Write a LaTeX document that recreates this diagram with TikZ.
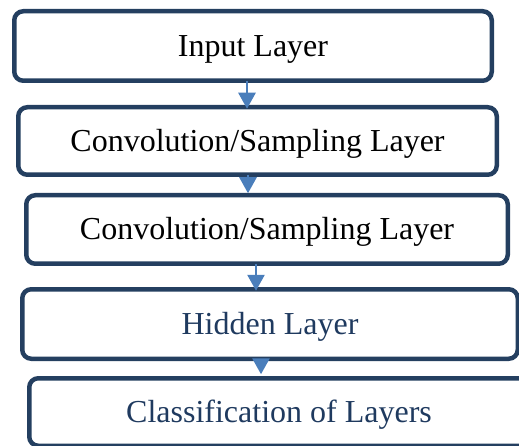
\documentclass[tikz,border=0pt]{standalone}
\usepackage{fontspec}
\setmainfont{Liberation Serif}
\usetikzlibrary{arrows.meta}
\definecolor{boxline}{HTML}{243F60}
\definecolor{boxtext}{HTML}{1F3A5F}
\definecolor{flow}{HTML}{4A7EBB}
\begin{document}
\begin{tikzpicture}[x=1pt,y=-1pt,
  layer/.style={draw=boxline, line width=4.5pt, rounded corners=9pt, fill=white,
    outer sep=0pt, inner sep=0pt, text height=21pt, text depth=0pt,
    font=\fontsize{32}{38}\selectfont},
  flowarrow/.style={draw=flow, line width=2.7pt,
    -{Triangle[length=16pt,width=17pt]}}]
  \useasboundingbox (0,0) rectangle (519,446);
  % the five stacked layers
  \node[layer, minimum width=477.5pt, minimum height=69.5pt] (b1) at (253,46) {Input Layer};
  \node[layer, minimum width=478.5pt, minimum height=67.5pt] (b2) at (257.5,141) {Convolution/Sampling Layer};
  \node[layer, minimum width=481.5pt, minimum height=68.5pt] (b3) at (267,229.5) {Convolution/Sampling Layer};
  \node[layer, minimum width=495.5pt, minimum height=69.5pt, text=boxtext] (b4) at (270,324) {Hidden Layer};
  \node[layer, minimum width=499.5pt, minimum height=67.5pt, text=boxtext] (b5) at (279,412) {Classification of Layers};
  % flow between the layers
  \draw[flowarrow] ([xshift=-6pt]b1.south) -- ([xshift=-10.5pt,yshift=-1.5pt]b2.north);
  \draw[flowarrow] ([xshift=-9.5pt]b2.south) -- ([xshift=-19pt,yshift=2pt]b3.north);
  \draw[flowarrow] ([xshift=-11pt]b3.south) -- ([xshift=-14pt,yshift=-1.5pt]b4.north);
  \draw[flowarrow] ([xshift=-9pt]b4.south) -- ([xshift=-18pt,yshift=4pt]b5.north);
\end{tikzpicture}
\end{document}
